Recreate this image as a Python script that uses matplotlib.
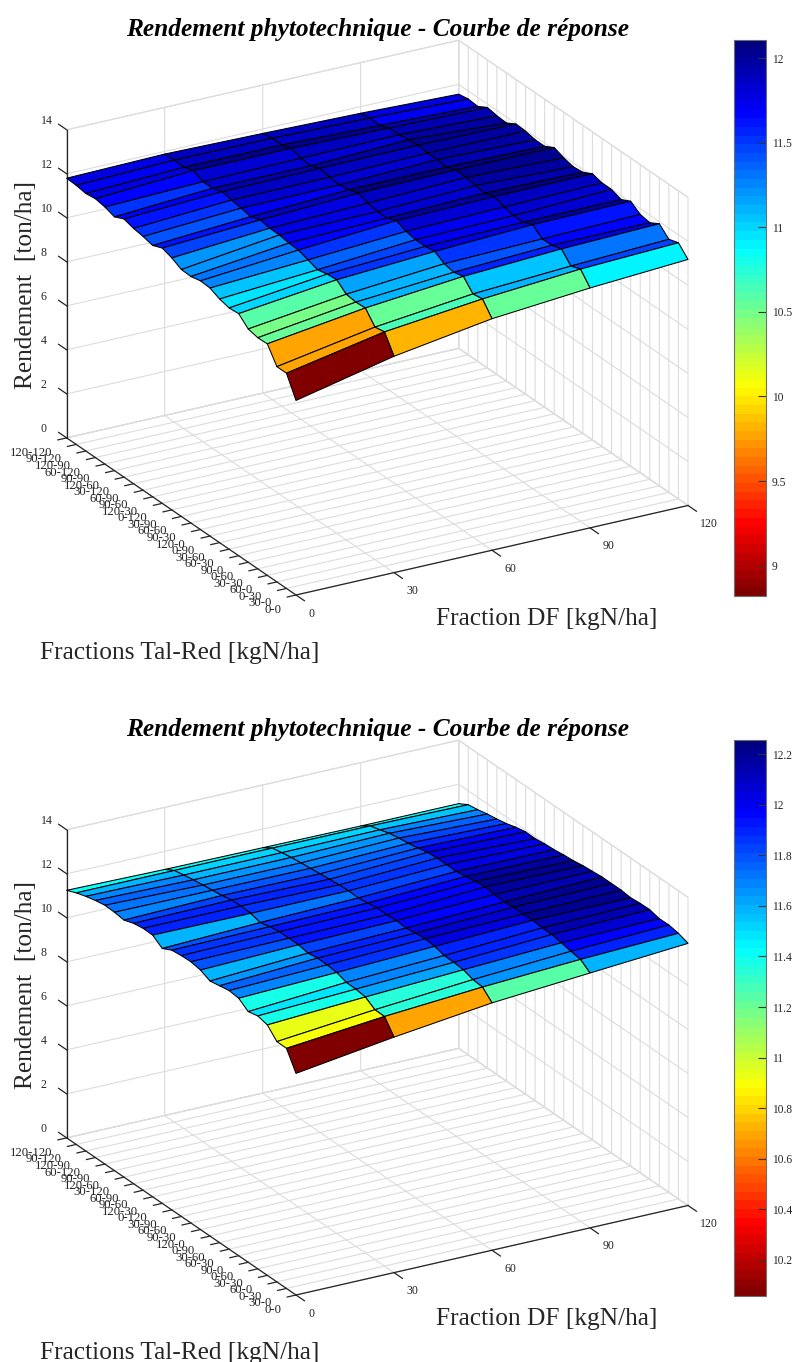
import numpy as np
import matplotlib
matplotlib.use("Agg")
import matplotlib.pyplot as plt
from matplotlib.colors import Normalize, LinearSegmentedColormap
from matplotlib.cm import ScalarMappable
from mpl_toolkits.mplot3d import proj3d

SERIF = ["Liberation Serif", "DejaVu Serif"]
plt.rcParams["font.family"] = SERIF

df_levels = [0, 30, 60, 90, 120]
tal_red = ["0-0", "30-0", "0-30", "60-0", "30-30", "0-60", "90-0", "60-30", "30-60", "0-90",
           "120-0", "90-30", "60-60", "30-90", "0-120", "120-30", "90-60", "60-90", "30-120",
           "120-60", "90-90", "60-120", "120-90", "90-120", "120-120"]

top_df0 = [8.84, 9.78, 9.78, 10.52, 10.5, 10.6, 11.0, 10.96, 11.07, 11.27, 11.3, 11.2, 11.22,
           11.45, 11.6, 11.42, 11.53, 11.6, 11.73, 11.53, 11.68, 11.76, 11.7, 11.77, 11.8]
top_df30 = [9.83, 10.64, 10.56, 11.13, 11.1, 11.16, 11.52, 11.48, 11.38, 11.53, 11.68, 11.7, 11.77,
            11.78, 11.86, 11.71, 11.8, 11.87, 11.95, 11.81, 11.81, 12.02, 11.87, 11.9, 11.88]
top_df60 = [10.52, 11.12, 11.05, 11.55, 11.44, 11.53, 11.79, 11.72, 11.73, 11.81, 12.0, 11.82, 11.82,
            11.9, 12.06, 11.91, 11.84, 11.89, 12.0, 11.81, 11.86, 12.02, 11.87, 11.88, 11.8]
top_df90 = [10.9, 11.46, 11.3, 11.78, 11.65, 11.64, 11.99, 11.8, 11.81, 11.9, 12.08, 11.94, 11.98,
            12.05, 12.1, 11.93, 11.97, 11.97, 12.03, 11.98, 11.91, 11.92, 11.74, 11.78, 11.7]
top_df120 = [11.18, 11.64, 11.5, 11.91, 11.66, 11.74, 12.04, 11.82, 11.98, 11.98, 12.1, 11.87, 11.82,
             11.93, 12.1, 11.86, 11.86, 11.95, 11.98, 11.73, 11.76, 11.84, 11.59, 11.63, 11.55]

bot_df0 = [10.07, 10.91, 10.92, 11.38, 11.49, 11.39, 11.7, 11.75, 11.67, 11.59, 11.79, 11.87, 11.85,
           11.8, 11.58, 11.89, 11.9, 11.83, 11.68, 11.74, 11.76, 11.68, 11.57, 11.43, 11.25]
bot_df30 = [10.7, 11.34, 11.35, 11.63, 11.69, 11.7, 11.85, 11.9, 11.91, 11.84, 11.92, 11.92, 11.92,
            11.85, 11.74, 11.86, 11.9, 11.87, 11.78, 11.72, 11.66, 11.6, 11.52, 11.43, 11.18]
bot_df60 = [11.24, 11.66, 11.7, 11.85, 11.89, 11.9, 12.02, 12.07, 12.03, 11.96, 12.0, 11.97, 11.98,
            11.91, 11.84, 11.87, 11.84, 11.8, 11.75, 11.7, 11.65, 11.6, 11.52, 11.43, 11.15]
bot_df90 = [11.58, 11.9, 11.97, 12.06, 12.14, 12.14, 12.19, 12.18, 12.19, 12.13, 12.17, 12.22, 12.17,
            12.1, 12.03, 12.04, 12.04, 12.0, 11.9, 11.82, 11.76, 11.68, 11.54, 11.42, 11.12]
bot_df120 = [11.91, 12.07, 12.15, 12.14, 12.25, 12.24, 12.2, 12.25, 12.25, 12.25, 12.21, 12.17, 12.1,
             12.06, 12.0, 11.97, 11.91, 11.92, 11.83, 11.7, 11.61, 11.54, 11.44, 11.37, 11.12]

top_cbar_range = (8.82, 12.108)
bot_cbar_range = (10.056, 12.257)
top_cbar_ticks = [9, 9.5, 10, 10.5, 11, 11.5, 12]
bot_cbar_ticks = [10.2, 10.4, 10.6, 10.8, 11, 11.2, 11.4, 11.6, 11.8, 12, 12.2]
z_ticks = [0, 2, 4, 6, 8, 10, 12, 14]

TITLE = "Rendement phytotechnique - Courbe de réponse"
TXT = "#262626"
GRID = "#dcdcdc"
W, H = 793, 1362

fig = plt.figure(figsize=(W / 100, H / 100), dpi=100, facecolor="white")
cmap = LinearSegmentedColormap("matlab_jet_r", {
    "red": [(0, .5, .5), (.125, 1, 1), (.375, 1, 1), (.625, 0, 0), (1, 0, 0)],
    "green": [(0, 0, 0), (.125, 0, 0), (.375, 1, 1), (.625, 1, 1), (.875, 0, 0), (1, 0, 0)],
    "blue": [(0, 0, 0), (.375, 0, 0), (.625, 1, 1), (.875, 1, 1), (1, .5, .5)],
}, N=64)


def px_of(ax, x, y, z):
    xs, ys, _ = proj3d.proj_transform(x, y, z, ax.get_proj())
    return ax.transData.transform((xs, ys))


def fit(ax, F, R):
    """Place the axes so the floor corners land at the requested pixels (y measured from top)."""
    for _ in range(3):
        fig.canvas.draw()
        a = px_of(ax, 0, 0, 0)
        b = px_of(ax, 120, 0, 0)
        k = (R[0] - F[0]) / (b[0] - a[0])
        pos = ax.get_position()
        bb = [pos.x0 * W, pos.y0 * H, pos.width * W, pos.height * H]
        cx, cy = bb[0] + bb[2] / 2, bb[1] + bb[3] / 2
        new_w, new_h = bb[2] * k, bb[3] * k
        ax_x = cx + (a[0] - cx) * k
        ax_y = cy + (a[1] - cy) * k
        dx = F[0] - ax_x
        dy = (H - F[1]) - ax_y
        ax.set_position([(cx - new_w / 2 + dx) / W, (cy - new_h / 2 + dy) / H, new_w / W, new_h / H])
    fig.canvas.draw()


def panel(series, rng, cb_ticks, off):
    Z = np.array(series).T
    X, Y = np.meshgrid(df_levels, np.arange(len(tal_red)))
    norm = Normalize(*rng)
    ax = fig.add_axes([0.05, (H - 620 - off) / H, 0.85, 0.85 * W / H], projection="3d", proj_type="ortho")
    ax.set_facecolor("none")
    ax.view_init(elev=23.3, azim=-120)
    ax.set_box_aspect((452, 458, 335))
    surf = ax.plot_surface(X, Y, Z, rstride=1, cstride=1, facecolors=cmap(norm(Z)), shade=False,
                           antialiased=True)
    surf.set_edgecolor("black")
    surf.set_linewidth(0.75)
    ax.set_xlim(0, 120)
    ax.set_ylim(0, len(tal_red) - 1)
    ax.set_zlim(0, 14)
    ax.set_xticks(df_levels)
    ax.set_yticks(np.arange(len(tal_red)))
    ax.set_yticklabels(tal_red)
    ax.set_zticks(z_ticks)
    # (inward, outward) tick length factors; the x and y axis edges lie on the low side
    factors = {"x": (0.46, 0.0), "y": (0.28, 0.0), "z": (0.0, 0.44)}
    for name, axis in (("x", ax.xaxis), ("y", ax.yaxis), ("z", ax.zaxis)):
        axis.set_pane_color((1, 1, 1, 1))
        axis.pane.set_edgecolor(GRID)
        axis.pane.set_linewidth(0.8)
        axis.line.set_color(TXT)
        axis.line.set_linewidth(0.9)
        axis._axinfo["grid"]["color"] = GRID
        axis._axinfo["grid"]["linewidth"] = 0.8
        axis._axinfo["tick"]["inward_factor"] = factors[name][0]
        axis._axinfo["tick"]["outward_factor"] = factors[name][1]
        axis._axinfo["tick"]["linewidth"] = {True: 0.9, False: 0.6}
        axis._axinfo["tick"]["color"] = TXT
    ax.zaxis.set_ticks_position("upper")
    ax.zaxis._get_tickdir = lambda position: 1
    ax.tick_params(axis="both", colors=TXT)
    ax.tick_params(axis="x", pad=6, labelsize=8.6)
    ax.tick_params(axis="y", pad=2, labelsize=9.2)
    ax.tick_params(axis="z", pad=3, labelsize=8.6)
    for lab in ax.get_yticklabels():
        lab.set_ha("right")
        lab.set_va("center")
    for lab in ax.get_xticklabels():
        lab.set_ha("left")
        lab.set_va("bottom")
    for lab in ax.get_zticklabels():
        lab.set_ha("left")
        lab.set_va("bottom")
    fit(ax, (296, 595 + off), (688, 506 + off))

    fig.text(378 / W, 1 - (29.5 + off) / H, TITLE, ha="center", va="center", fontsize=18.3,
             fontweight="bold", fontstyle="italic", color="black")
    fig.text(547 / W, 1 - (619 + off) / H, "Fraction DF [kgN/ha]", ha="center", va="center",
             fontsize=18.3, color=TXT)
    fig.text(180 / W, 1 - (653.5 + off) / H, "Fractions Tal-Red [kgN/ha]", ha="center", va="center",
             fontsize=18.3, color=TXT)
    fig.text(26 / W, 1 - (285 + off) / H, "Rendement  [ton/ha]", ha="center", va="center",
             rotation=90, fontsize=18.3, color=TXT)

    cax = fig.add_axes([733.7 / W, 1 - (596 + off) / H, 32 / W, 556 / H])
    cb = fig.colorbar(ScalarMappable(norm=norm, cmap=cmap), cax=cax)
    cb.set_ticks(cb_ticks)
    cb.set_ticklabels([f"{t:g}" for t in cb_ticks])
    cb.outline.set_edgecolor("#6e6e6e")
    cb.outline.set_linewidth(0.8)
    cax.tick_params(direction="in", length=6, width=0.8, color="#333333", labelsize=8.3,
                    labelcolor=TXT, pad=4.5)
    return ax


panel([top_df0, top_df30, top_df60, top_df90, top_df120], top_cbar_range, top_cbar_ticks, 0)
panel([bot_df0, bot_df30, bot_df60, bot_df90, bot_df120], bot_cbar_range, bot_cbar_ticks, 700)

fig.savefig("out.png", dpi=100, facecolor="white")
